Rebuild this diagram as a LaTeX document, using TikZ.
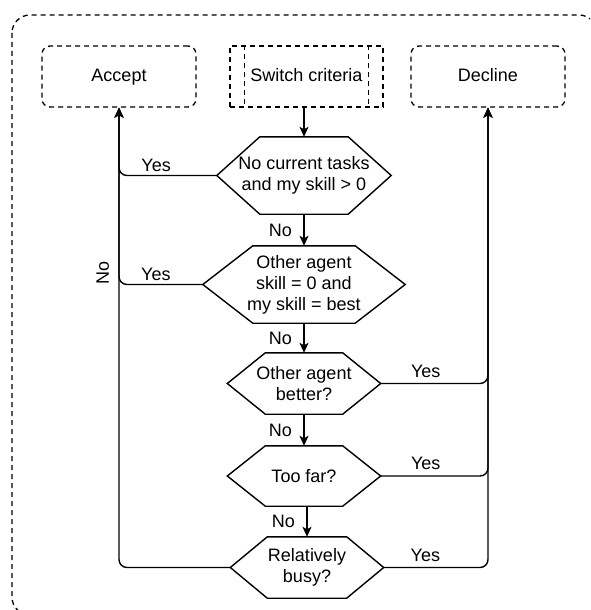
\documentclass[tikz,border=0pt]{standalone}
\usepackage{fontspec}
\setmainfont{Liberation Sans}
\usetikzlibrary{arrows.meta,calc}

\tikzset{
  dashline/.style={line width=1.3pt, dash pattern=on 5pt off 4pt},
  outcome/.style={draw, dashline, rounded corners=8, minimum width=154, minimum height=61, inner sep=0pt, text height=13pt, text depth=3pt},
  criteria/.style={draw, dashline, minimum width=153, minimum height=61, inner sep=0pt, text height=13pt, text depth=3pt},
  decision/.style={inner sep=0pt, align=center},
  flow/.style={line width=1.4pt, rounded corners=8, -{Stealth[length=10pt, width=9pt, inset=2.5pt]}}
}

% hexagon round a decision node: name, inset
\newcommand{\hexagon}[2]{%
  \draw[line width=1.4pt] (#1.west) -- ($(#1.north west)+(#2,0)$) -- ($(#1.north east)+(-#2,0)$)
    -- (#1.east) -- ($(#1.south east)+(-#2,0)$) -- ($(#1.south west)+(#2,0)$) -- cycle;}

\begin{document}
\begin{tikzpicture}[x=1pt, y=-1pt, font=\fontsize{18}{21}\selectfont]
    \useasboundingbox (0,0) rectangle (590,610);
    \begin{scope}
    \clip (0,0) rectangle (590,610);
    \draw[dashline, rounded corners=18] (12,15) rectangle (597,615);
    \end{scope}

    \node[outcome] at (119,76.5) (accept) {Accept};
    \node[criteria] at (306.5,76.5) (switch) {Switch criteria};
    \node[outcome] at (488,76.5) (decline) {Decline};
    \draw[dashline] ($(switch.north west)+(15,0)$) -- ($(switch.south west)+(15,0)$);
    \draw[dashline] ($(switch.north east)+(-15,0)$) -- ($(switch.south east)+(-15,0)$);

    \node[decision, minimum width=174, minimum height=77] at (304,175.5) (notasks) {No current tasks\\and my skill > 0};
    \node[decision, minimum width=202, minimum height=77] at (304,284.5) (otherzero) {Other agent\\skill = 0 and\\my skill = best};
    \node[decision, minimum width=153, minimum height=61] at (304,383.5) (otherbetter) {Other agent\\better?};
    \node[decision, minimum width=153, minimum height=60] at (304,476) (toofar) {Too far?};
    \node[decision, minimum width=153, minimum height=61] at (307,567.5) (busy) {Relatively\\busy?};

    \hexagon{notasks}{43}
    \hexagon{otherzero}{50}
    \hexagon{otherbetter}{38}
    \hexagon{toofar}{38}
    \hexagon{busy}{37}

    \draw[flow] (switch.south -| notasks.north) -- (notasks.north);
    \draw[flow] (notasks.south) -- (otherzero.north) node[midway, left=8pt] {No};
    \draw[flow] (otherzero.south) -- (otherbetter.north) node[midway, left=8pt] {No};
    \draw[flow] (otherbetter.south) -- (toofar.north) node[midway, left=8pt] {No};
    \draw[flow] (toofar.south -| busy.north) -- (busy.north) node[midway, left=8pt] {No};

    \draw[flow] (notasks.west) -| (accept.south) node[pos=0.31, above] {Yes};
    \draw[flow] (otherzero.west) -| (accept.south) node[pos=0.28, above] {Yes};
    \draw[flow] (busy.west) -| (accept.south) node[pos=0.82, sloped, above=6pt] {No};

    \draw[flow] (otherbetter.east) -| (decline.south) node[pos=0.21, above=2pt] {Yes};
    \draw[flow] (toofar.east) -| (decline.south) node[pos=0.21, above=2pt] {Yes};
    \draw[flow] (busy.east) -| (decline.south) node[pos=0.2, above=2pt] {Yes};
\end{tikzpicture}
\end{document}
